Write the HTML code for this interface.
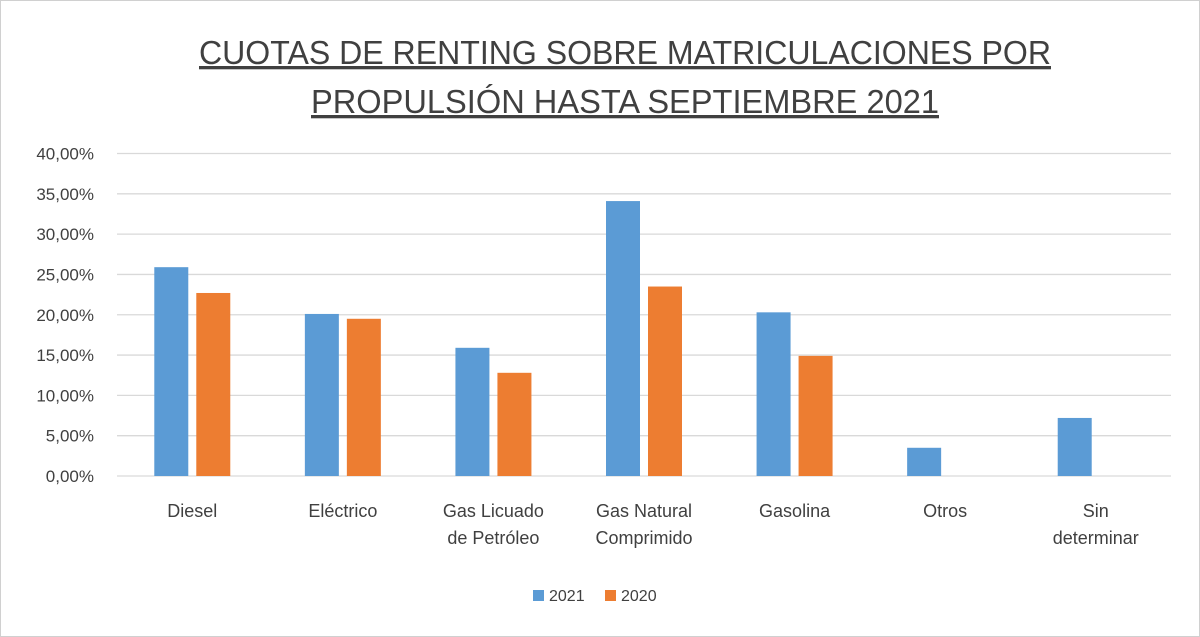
<!DOCTYPE html>
<html><head><meta charset="utf-8"><style>
body{margin:0;background:#fff;}
svg{display:block;font-family:"Liberation Sans",sans-serif;}
</style></head><body>
<svg width="1200" height="637">
<rect x="0.5" y="0.5" width="1199" height="636" fill="#fff" stroke="#d0d0d0"/>
<text x="625" y="64" font-size="33" text-anchor="middle" fill="#404040" text-decoration="underline" textLength="852" lengthAdjust="spacingAndGlyphs">CUOTAS DE RENTING SOBRE MATRICULACIONES POR</text>
<text x="625" y="113" font-size="33" text-anchor="middle" fill="#404040" text-decoration="underline" textLength="628" lengthAdjust="spacingAndGlyphs">PROPULSIÓN HASTA SEPTIEMBRE 2021</text>
<g id="grid"></g><g id="bars"></g><g id="labels"></g>
<rect x="533" y="590" width="11" height="11" fill="#5b9bd5"/>
<text x="549" y="601" font-size="16" fill="#404040">2021</text>
<rect x="605" y="590" width="11" height="11" fill="#ed7d31"/>
<text x="621" y="601" font-size="16" fill="#404040">2020</text>
</svg>
<script>
const categories=[["Diesel"],["Eléctrico"],["Gas Licuado","de Petróleo"],["Gas Natural","Comprimido"],["Gasolina"],["Otros"],["Sin","determinar"]];
const values2021=[25.9,20.1,15.9,34.1,20.3,3.5,7.2];
const values2020=[22.7,19.5,12.8,23.5,14.9,null,null];
const ticks=[0,5,10,15,20,25,30,35,40];
const tickLabels=["0,00%","5,00%","10,00%","15,00%","20,00%","25,00%","30,00%","35,00%","40,00%"];
const NS="http://www.w3.org/2000/svg";
const L=117,R=1171,T=153.5,B=476,ymax=40;
const y=v=>B-(v/ymax)*(B-T);
const step=(R-L)/categories.length;
const xc=i=>L+step*(i+0.5);
function mk(tag,attrs,parent){const e=document.createElementNS(NS,tag);for(const k in attrs)e.setAttribute(k,attrs[k]);document.getElementById(parent).appendChild(e);return e;}
ticks.forEach((t,i)=>{
 const l=mk("line",{x1:L,x2:R,y1:y(t),y2:y(t),stroke:"#d9d9d9","stroke-width":1.3},"grid");
 
 
 const tx=mk("text",{x:94,y:y(t)+6,"font-size":17,"text-anchor":"end",fill:"#404040"},"grid");
 tx.textContent=tickLabels[i];
 
 
});
const bw=34,gap=8;
categories.forEach((c,i)=>{
 const v1=values2021[i],v2=values2020[i];
 if(v1!=null){const r=mk("rect",{x:xc(i)-gap/2-bw,y:y(v1),width:bw,height:B-y(v1),fill:"#5b9bd5"},"bars");
  
  }
 if(v2!=null){const r=mk("rect",{x:xc(i)+gap/2,y:y(v2),width:bw,height:B-y(v2),fill:"#ed7d31"},"bars");
  
  }
 c.forEach((s,j)=>{const t=mk("text",{x:xc(i),y:517+j*27,"font-size":18,"text-anchor":"middle",fill:"#404040"},"labels");
  t.textContent=s;
  
  });
});
</script>
</body></html>
